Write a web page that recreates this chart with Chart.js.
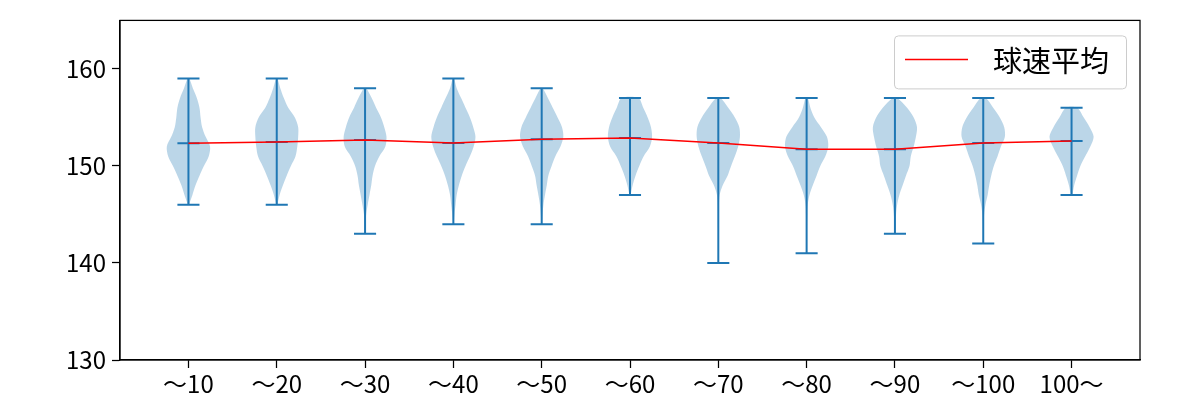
<!DOCTYPE html>
<html lang="ja">
<head>
<meta charset="UTF-8">
<title>球速平均</title>
<script src="https://cdn.jsdelivr.net/npm/chart.js"></script>
<style>
  html, body { margin: 0; padding: 0; background: #fff; }
</style>
</head>
<body>
<canvas id="myChart" width="1200" height="400"></canvas>

<script>
    // カテゴリ（投球数）
    var labels = ['〜10', '〜20', '〜30', '〜40', '〜50', '〜60', '〜70', '〜80', '〜90', '〜100', '100〜'];

    // 最小・最大・平均
    var mins = [146, 146, 143, 144, 144, 147, 140, 141, 143, 142, 147];
    var maxs = [159, 159, 158, 159, 158, 157, 157, 157, 157, 157, 156];
    var means = [152.35, 152.47, 152.68, 152.37, 152.75, 152.89, 152.37, 151.72, 151.72, 152.37, 152.58];

    // バイオリンの形（min から max まで 1km/h 刻み、最大幅 = 1）
    var shapes = [
        [0.03, 0.18, 0.32, 0.5, 0.7, 0.92, 0.98, 0.78, 0.62, 0.55, 0.5, 0.38, 0.2, 0.04],
        [0.03, 0.13, 0.28, 0.45, 0.64, 0.85, 0.93, 0.97, 0.97, 0.82, 0.52, 0.32, 0.16, 0.03],
        [0.01, 0.02, 0.05, 0.12, 0.2, 0.28, 0.34, 0.45, 0.65, 0.92, 0.97, 0.87, 0.72, 0.5, 0.3, 0.05],
        [0.02, 0.05, 0.1, 0.15, 0.25, 0.38, 0.55, 0.75, 0.92, 1.0, 0.9, 0.75, 0.55, 0.35, 0.15, 0.03],
        [0.02, 0.04, 0.08, 0.15, 0.23, 0.3, 0.45, 0.62, 0.85, 0.98, 0.92, 0.72, 0.5, 0.28, 0.05],
        [0.03, 0.12, 0.25, 0.42, 0.62, 0.9, 1.0, 0.95, 0.8, 0.6, 0.38],
        [0.01, 0.01, 0.01, 0.01, 0.02, 0.02, 0.03, 0.06, 0.2, 0.42, 0.58, 0.75, 0.9, 0.98, 0.95, 0.75, 0.45, 0.1],
        [0.01, 0.01, 0.01, 0.02, 0.03, 0.05, 0.13, 0.28, 0.45, 0.62, 0.85, 0.98, 0.92, 0.65, 0.35, 0.17, 0.05],
        [0.01, 0.03, 0.05, 0.1, 0.2, 0.35, 0.5, 0.66, 0.72, 0.85, 0.95, 1.0, 0.85, 0.55, 0.1],
        [0.01, 0.01, 0.02, 0.04, 0.1, 0.2, 0.27, 0.36, 0.48, 0.65, 0.8, 0.98, 0.95, 0.75, 0.45, 0.12],
        [0.04, 0.12, 0.25, 0.4, 0.62, 0.85, 1.0, 0.82, 0.55, 0.25]
    ];

    var yTicks = [130, 140, 150, 160];

    var blue = '#1f77b4';
    var halfWidth = 0.25;   // バイオリンの最大半幅
    var capHalf = 0.125;    // ひげの端の半幅
    var fontFamily = "'Noto Sans CJK JP', 'Noto Sans', sans-serif";

    var datasets = [];

    // 平均の折れ線
    datasets.push({
        label: '球速平均',
        data: means.map(function (m, i) { return {x: i + 1, y: m}; }),
        borderColor: '#ff0000',
        borderWidth: 1.5,
        pointRadius: 0,
        fill: false,
        order: 0
    });

    // ひげ（最小・平均・最大の横線と縦線）
    labels.forEach(function (l, i) {
        var p = i + 1;
        datasets.push({
            label: 'lines' + i,
            data: [
                {x: p - capHalf, y: mins[i]}, {x: p + capHalf, y: mins[i]}, {x: p, y: mins[i]},
                {x: p, y: means[i]}, {x: p - capHalf, y: means[i]}, {x: p + capHalf, y: means[i]}, {x: p, y: means[i]},
                {x: p, y: maxs[i]}, {x: p - capHalf, y: maxs[i]}, {x: p + capHalf, y: maxs[i]}
            ],
            borderColor: blue,
            borderWidth: 2,
            pointRadius: 0,
            fill: false,
            order: 1
        });
    });

    // バイオリン本体
    labels.forEach(function (l, i) {
        var p = i + 1;
        var s = shapes[i];
        var pts = [];
        for (var k = 0; k < s.length; k++) {
            pts.push({x: p + s[k] * halfWidth, y: mins[i] + k});
        }
        for (var k2 = s.length - 1; k2 >= 0; k2--) {
            pts.push({x: p - s[k2] * halfWidth, y: mins[i] + k2});
        }
        datasets.push({
            label: 'body' + i,
            data: pts,
            borderColor: 'rgba(31,119,180,0.3)',
            backgroundColor: 'rgba(31,119,180,0.3)',
            borderWidth: 0,
            pointRadius: 0,
            tension: 0.3,
            fill: 'shape',
            order: 2
        });
    });

    // 枠線と凡例
    var framePlugin = {
        id: 'frame',
        afterDraw: function (chart) {
            var ctx = chart.ctx;
            var a = chart.chartArea;
            ctx.save();
            ctx.strokeStyle = '#000';
            ctx.lineWidth = 1.25;
            ctx.strokeRect(a.left, a.top, a.right - a.left, a.bottom - a.top);

            // 凡例
            var w = 232, h = 53;
            var x0 = a.right - 14 - w, y0 = a.top + 15;
            ctx.beginPath();
            ctx.roundRect(x0 + 0.5, y0 + 0.5, w, h, 4);
            ctx.fillStyle = 'rgba(255,255,255,0.8)';
            ctx.fill();
            ctx.strokeStyle = '#cccccc';
            ctx.lineWidth = 1;
            ctx.stroke();
            ctx.beginPath();
            ctx.moveTo(x0 + 11, y0 + 24);
            ctx.lineTo(x0 + 74, y0 + 24);
            ctx.strokeStyle = '#ff0000';
            ctx.lineWidth = 1.5;
            ctx.stroke();
            ctx.fillStyle = '#000';
            ctx.font = '29px ' + fontFamily;
            ctx.textBaseline = 'middle';
            ctx.textAlign = 'left';
            ctx.fillText(chart.data.datasets[0].label, x0 + 99, y0 + 26);
            ctx.restore();
        }
    };

    var ctx = document.getElementById('myChart').getContext('2d');
    var myChart = new Chart(ctx, {
        type: 'line',
        data: {datasets: datasets},
        plugins: [framePlugin],
        options: {
            responsive: false,
            animation: false,
            devicePixelRatio: 1,
            layout: {padding: {top: 20, right: 60, left: 0, bottom: 0}},
            plugins: {
                legend: {display: false},
                tooltip: {enabled: false}
            },
            scales: {
                x: {
                    type: 'linear',
                    min: 0.225,
                    max: 11.775,
                    afterBuildTicks: function (scale) {
                        scale.ticks = labels.map(function (l, i) { return {value: i + 1}; });
                    },
                    afterFit: function (scale) { scale.height = 40; },
                    ticks: {
                        callback: function (v, i) { return labels[i]; },
                        font: {family: fontFamily, size: 24},
                        color: '#000',
                        padding: 1,
                        maxRotation: 0,
                        autoSkip: false
                    },
                    grid: {drawOnChartArea: false, drawTicks: true, tickLength: 8, color: '#000', tickWidth: 1.25},
                    border: {color: '#000', width: 1.25}
                },
                y: {
                    min: 130,
                    max: 165,
                    afterBuildTicks: function (scale) {
                        scale.ticks = yTicks.map(function (v) { return {value: v}; });
                    },
                    afterFit: function (scale) { scale.width = 120; },
                    ticks: {
                        font: {family: fontFamily, size: 24},
                        color: '#000',
                        padding: 6
                    },
                    grid: {drawOnChartArea: false, drawTicks: true, tickLength: 8, color: '#000', tickWidth: 1.25},
                    border: {color: '#000', width: 1.25}
                }
            }
        }
    });
</script>
</body>
</html>
